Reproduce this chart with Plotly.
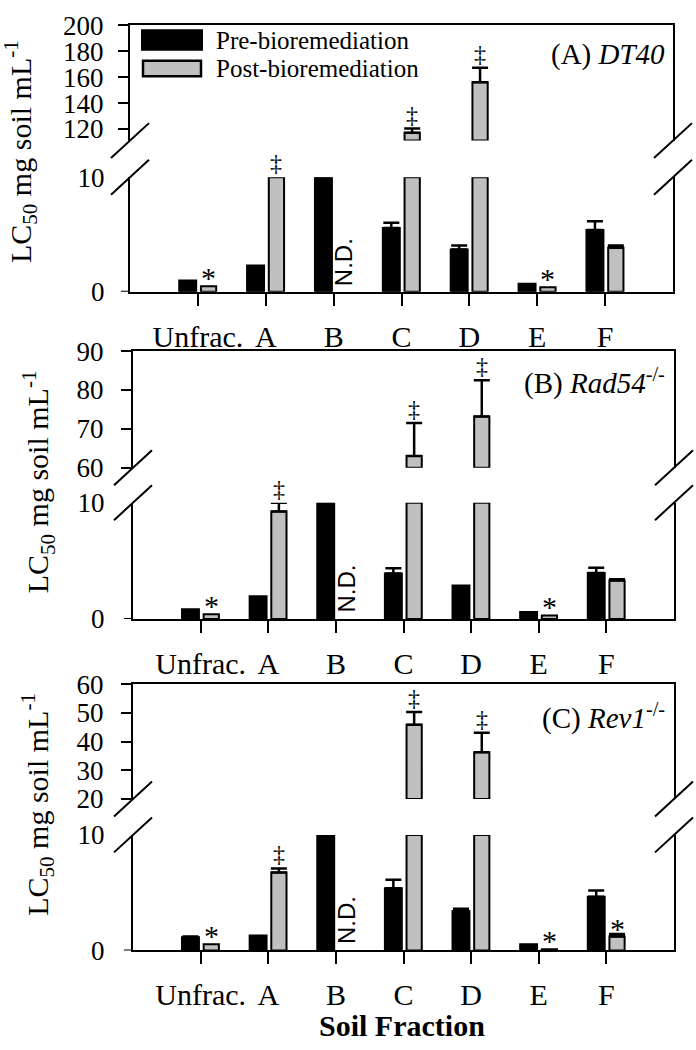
import plotly.graph_objects as go

W, H = 696, 1050

categories = ["Unfrac.", "A", "B", "C", "D", "E", "F"]

# Panel A: DT40
dt40_pre = [1.0, 2.3, 10.0, 5.57, 3.7, 0.7, 5.4]
dt40_pre_err = [None, None, None, 0.45, 0.35, None, 0.75]
dt40_post = [0.5, 10.0, None, 117.0, 156.0, 0.4, 3.85]
dt40_post_err = [None, None, None, 3.3, 11.2, None, 0.2]
dt40_star = ["Unfrac.", "E"]
dt40_dagger = ["A", "C", "D"]

# Panel B: Rad54-/-
rad54_pre = [0.84, 1.96, 10.0, 3.9, 2.87, 0.6, 3.96]
rad54_pre_err = [None, None, None, 0.45, None, None, 0.45]
rad54_post = [0.4, 9.25, None, 63.0, 73.2, 0.3, 3.3]
rad54_post_err = [None, 0.75, None, 8.5, 9.3, None, 0.12]
rad54_star = ["Unfrac.", "E"]
rad54_dagger = ["A", "C", "D"]

# Panel C: Rev1-/-
rev1_pre = [1.15, 1.29, 10.0, 5.38, 3.42, 0.53, 4.65]
rev1_pre_err = [0.05, None, None, 0.75, 0.2, None, 0.55]
rev1_post = [0.53, 6.75, None, 45.9, 36.3, 0.1, 1.2]
rev1_post_err = [None, 0.35, None, 4.4, 6.8, None, 0.23]
rev1_star = ["Unfrac.", "E", "F"]
rev1_dagger = ["A", "C", "D"]

lower_range = [0, 10]
lower_ticks = [0, 10]
upper_ranges = [[111, 200], [60, 90], [20, 60]]
upper_ticks = [[120, 140, 160, 180, 200], [60, 70, 80, 90], [20, 30, 40, 50, 60]]
titles = ["(A) <i>DT40</i>", "(B) <i>Rad54</i><sup>-/-</sup>", "(C) <i>Rev1</i><sup>-/-</sup>"]
legend_names = ["Pre-bioremediation", "Post-bioremediation"]
ylabel = "LC<sub>50</sub> mg soil mL<sup>-1</sup>"
xlabel = "<b>Soil Fraction</b>"

panels = [
    (dt40_pre, dt40_pre_err, dt40_post, dt40_post_err, dt40_star, dt40_dagger),
    (rad54_pre, rad54_pre_err, rad54_post, rad54_post_err, rad54_star, rad54_dagger),
    (rev1_pre, rev1_pre_err, rev1_post, rev1_post_err, rev1_star, rev1_dagger),
]

# ---- layout geometry (pixels) ----
geom = [
    dict(x0=130, x1=673, up=(10.7, 129.3), lo=(167, 285), title_y=41, ylab_x=21, ylab_y=141, std=9),
    dict(x0=133, x1=674, up=(346, 466), lo=(502, 621.7), title_y=377, ylab_x=38, ylab_y=481, std=12),
    dict(x0=133, x1=674, up=(689, 807), lo=(844, 963), title_y=722, ylab_x=38, ylab_y=813, std=12),
]

SERIF = "Liberation Serif"
SANS = "Liberation Sans"
GRAY = "#c0c0c0"
PRE_OFF, PRE_W = -0.275, 0.25
POST_OFF, POST_W = 0.045, 0.225
POST_C = POST_OFF + POST_W / 2


def fx(px):
    return px / W


def fy(py):
    return 1 - py / H


def ref(k, letter):
    return letter if k == 1 else f"{letter}{k}"


def lay(k, letter):
    return f"{letter}axis" if k == 1 else f"{letter}axis{k}"


fig = go.Figure()


def add_bars(xs, ys, errs, base, offset, width, color, k):
    with_e = [(x, y, e) for x, y, e in zip(xs, ys, errs) if e is not None]
    without = [(x, y) for x, y, e in zip(xs, ys, errs) if e is None]
    common = dict(offset=offset, width=width, base=base,
                  marker=dict(color=color, line=dict(color="black", width=2)),
                  xaxis=ref(k, "x"), yaxis=ref(k, "y"),
                  cliponaxis=False, showlegend=False, hoverinfo="skip")
    if with_e:
        fig.add_trace(go.Bar(
            x=[a[0] for a in with_e], y=[a[1] for a in with_e],
            error_y=dict(type="data", symmetric=False,
                         array=[a[2] for a in with_e],
                         arrayminus=[0] * len(with_e),
                         color="black", thickness=2.5, width=8),
            **common))
    if without:
        fig.add_trace(go.Bar(
            x=[a[0] for a in without], y=[a[1] for a in without], **common))


annotations = []
shapes = []
layout_axes = {}

for p, (pre, pre_e, post, post_e, stars, daggers) in enumerate(panels):
    g = geom[p]
    kl, ku = 2 * p + 1, 2 * p + 2
    umin, umax = upper_ranges[p]
    lmax = lower_range[1]

    for vals, errs, off, w, col in [(pre, pre_e, PRE_OFF, PRE_W, "black"),
                                    (post, post_e, POST_OFF, POST_W, GRAY)]:
        # lower segment
        xs, ys, es = [], [], []
        for c, v, e in zip(categories, vals, errs):
            if v is None:
                continue
            xs.append(c)
            ys.append(min(v, lmax))
            es.append(e if v <= lmax else None)
        add_bars(xs, ys, es, 0, off, w, col, kl)
        # upper segment
        xs, ys, es = [], [], []
        for c, v, e in zip(categories, vals, errs):
            if v is None or v <= umin:
                continue
            xs.append(c)
            ys.append(v - umin)
            es.append(e)
        if xs:
            add_bars(xs, ys, es, umin, off, w, col, ku)

    xdom = [fx(g["x0"]), fx(g["x1"])]
    layout_axes[lay(kl, "x")] = dict(
        domain=xdom, anchor=ref(kl, "y"), type="category",
        categoryorder="array", categoryarray=categories, range=[-1, 7],
        showline=True, linecolor="black", linewidth=2, showgrid=False, zeroline=False,
        ticks="outside", ticklen=12, tickwidth=2, tickcolor="black",
        tickfont=dict(family=SERIF, size=30, color="black"), ticklabelstandoff=5)
    layout_axes[lay(ku, "x")] = dict(
        domain=xdom, anchor=ref(ku, "y"), type="category",
        categoryorder="array", categoryarray=categories, range=[-1, 7],
        showline=True, linecolor="black", linewidth=2, side="top",
        showgrid=False, zeroline=False, showticklabels=False, ticks="")
    layout_axes[lay(kl, "y")] = dict(
        domain=[fy(g["lo"][1]), fy(g["lo"][0])], anchor=ref(kl, "x"),
        range=lower_range, tickvals=lower_ticks, ticks="",
        showline=True, mirror=True, linecolor="black", linewidth=2,
        showgrid=False, zeroline=False,
        tickfont=dict(family=SERIF, size=27, color="black"),
        ticklabelstandoff=g["std"] + 9)
    layout_axes[lay(ku, "y")] = dict(
        domain=[fy(g["up"][1]), fy(g["up"][0])], anchor=ref(ku, "x"),
        range=[umin, umax], tickvals=upper_ticks[p], ticks="outside",
        ticklen=10, tickwidth=2, tickcolor="black",
        showline=True, mirror=True, linecolor="black", linewidth=2,
        showgrid=False, zeroline=False,
        tickfont=dict(family=SERIF, size=27, color="black"),
        ticklabelstandoff=g["std"])

    # 0-tick stub on lower left spine
    shapes.append(dict(type="line", xref="paper", yref=ref(kl, "y"),
                       x0=fx(g["x0"] - 9), x1=fx(g["x0"]), y0=0, y1=0,
                       line=dict(color="black", width=2)))
    # break marks
    for xs_ in (g["x0"], g["x1"]):
        for ys_ in (g["up"][1], g["lo"][0]):
            shapes.append(dict(type="line", xref="paper", yref="paper",
                               x0=fx(xs_ - 19), y0=fy(ys_ + 18),
                               x1=fx(xs_ + 19), y1=fy(ys_ - 18),
                               line=dict(color="black", width=2)))

    # significance symbols
    for c in stars:
        i = categories.index(c)
        annotations.append(dict(x=i + POST_C, y=post[i], xref=ref(kl, "x"), yref=ref(kl, "y"),
                                text="*", showarrow=False, yanchor="bottom", yshift=-10,
                                font=dict(family=SERIF, size=30, color="black")))
    for c in daggers:
        i = categories.index(c)
        top = post[i] + (post_e[i] or 0)
        if post[i] > lmax:
            xr, yr, yv = ref(ku, "x"), ref(ku, "y"), top
        else:
            xr, yr, yv = ref(kl, "x"), ref(kl, "y"), min(top, lmax)
        annotations.append(dict(x=i + POST_C, y=yv, xref=xr, yref=yr,
                                text="‡", showarrow=False, yanchor="bottom", yshift=-1,
                                font=dict(family=SERIF, size=24, color="black")))
    # N.D.
    for i, v in enumerate(post):
        if v is None:
            annotations.append(dict(x=i + POST_C, y=0, xref=ref(kl, "x"), yref=ref(kl, "y"),
                                    text="N.D.", textangle=-90, showarrow=False,
                                    yanchor="bottom", yshift=4,
                                    font=dict(family=SANS, size=24, color="black")))
    # panel title
    annotations.append(dict(x=fx(667), y=fy(g["title_y"]), xref="paper", yref="paper",
                            text=titles[p], showarrow=False, xanchor="right", yanchor="middle",
                            font=dict(family=SERIF, size=29, color="black")))
    # y label
    annotations.append(dict(x=fx(g["ylab_x"]), y=fy(g["ylab_y"]), xref="paper", yref="paper",
                            text=ylabel, textangle=-90, showarrow=False,
                            xanchor="center", yanchor="middle",
                            font=dict(family=SERIF, size=30, color="black")))

# legend (panel A)
shapes.append(dict(type="rect", xref="paper", yref="paper",
                   x0=fx(142), x1=fx(202), y0=fy(35.7), y1=fy(15.7),
                   fillcolor="black", line=dict(color="black", width=2)))
shapes.append(dict(type="rect", xref="paper", yref="paper",
                   x0=fx(143), x1=fx(201), y0=fy(63), y1=fy(47),
                   fillcolor=GRAY, line=dict(color="black", width=2.5)))
for name, yy in zip(legend_names, (26, 55)):
    annotations.append(dict(x=fx(214), y=fy(yy), xref="paper", yref="paper",
                            text=name, showarrow=False, xanchor="left", yanchor="middle",
                            font=dict(family=SERIF, size=25, color="black")))

# x title
annotations.append(dict(x=fx(402), y=fy(1040), xref="paper", yref="paper",
                        text=xlabel, showarrow=False, xanchor="center", yanchor="middle",
                        font=dict(family=SERIF, size=30, color="black")))

fig.update_layout(
    width=W, height=H, margin=dict(l=0, r=0, t=0, b=0),
    paper_bgcolor="white", plot_bgcolor="white",
    barmode="overlay", showlegend=False,
    annotations=annotations, shapes=shapes,
    **layout_axes,
)

fig.write_html("out.html", config={"displayModeBar": False},
               post_script="document.body.style.margin='0';")
